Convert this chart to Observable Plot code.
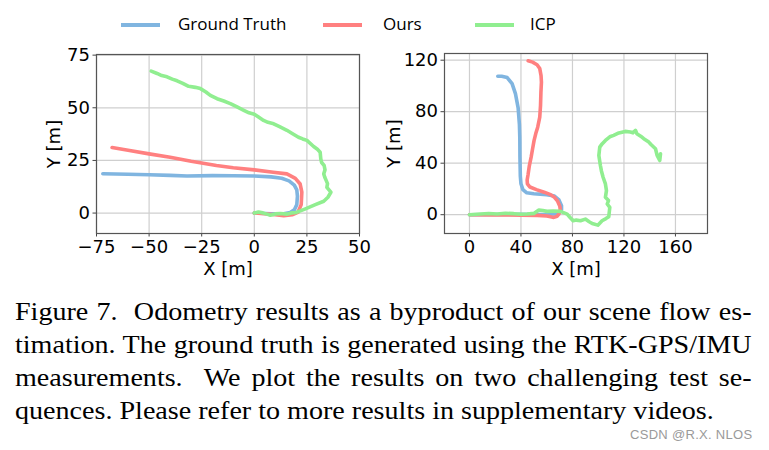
<!DOCTYPE html>
<html>
<head>
<meta charset="utf-8">
<script src="https://cdn.jsdelivr.net/npm/d3@7"></script>
<script src="https://cdn.jsdelivr.net/npm/@observablehq/plot@0.6"></script>
<style>
  body { margin: 0; background: #fff; width: 769px; height: 450px; position: relative; overflow: hidden; }
  .abs { position: absolute; }
  #legend { font-family: "Open Sans", sans-serif; font-size: 17px; color: #000; }
  .sw { position: absolute; height: 4px; top: 23px; }
  .lt { position: absolute; top: 12px; line-height: 24px; }
  .cap { position: absolute; left: 15px; width: 682px; font-family: "Liberation Serif", "Times New Roman", serif; font-size: 26px; line-height: 30px; text-align: justify; text-align-last: justify; white-space: nowrap; color: #000; transform: scaleX(1.08); transform-origin: 0 0; }
  #wm { position: absolute; left: 630px; top: 427px; font-family: "Liberation Sans", Arial, sans-serif; font-size: 13px; color: #9a9a9a; letter-spacing: 0.3px; }
</style>
</head>
<body>
<div id="legend"></div>
<div id="p1" class="abs" style="left:0px; top:40px;"></div>
<div id="p2" class="abs" style="left:380px; top:40px;"></div>
<div class="cap" style="top:297px;">Figure 7.&nbsp; Odometry results as a byproduct of our scene flow es-</div>
<div class="cap" style="top:330px;">timation. The ground truth is generated using the RTK-GPS/IMU</div>
<div class="cap" style="top:363px;">measurements.&nbsp; We plot the results on two challenging test se-</div>
<div class="cap" style="top:396px; width:auto; text-align-last:auto;">quences. Please refer to more results in supplementary videos.</div>
<div id="wm">CSDN @R.X. NLOS</div>
<script>
// ---- Data ----
const seriesNames = ["Ground Truth", "Ours", "ICP"];
const seriesColors = ["#80b5e0", "#ff8080", "#90ee90"];

// Left sequence
const gtA_x = [0, 8, 14, 17, 19, 20.2, 20.5, 20.2, 19, 16.5, 13, 8, 0, -10, -20, -32, -40, -50, -60, -72];
const gtA_y = [0, -0.3, -0.3, 0.3, 1.5, 4, 8, 11, 13.3, 15.3, 16.5, 17.2, 17.6, 17.7, 17.8, 17.6, 17.9, 18.2, 18.4, 18.7];
const oursA_x = [0, 5, 10, 14, 18, 20.7, 22.3, 22.6, 21.8, 19.5, 15.5, 9, 0, -10, -18, -30, -40, -50, -60, -67.6];
const oursA_y = [0, -0.3, -0.8, -1.3, -0.8, 0.3, 4, 10, 13.8, 16.5, 18.6, 19.4, 20.5, 21.5, 22.6, 24.6, 26.5, 28.1, 29.8, 31.1];
const icpA_x = [0, 2, 4, 6, 7.6, 10, 12.3, 15.5, 18, 20, 24, 29, 33, 35, 36.4, 34.5, 34.8, 34.2, 33.5, 33, 33.6, 33.2, 32, 31.6, 31.3, 30, 28.2, 25, 23, 21, 18, 15.5, 12, 9.2, 6.5, 4.4, 2, 0, -2.5, -5, -8.2, -11.4, -14.5, -17.7, -20.9, -23, -25.6, -28, -31.2, -34, -36.7, -39, -41.5, -44, -46.2, -49];
const icpA_y = [0, 0.5, 0.1, -0.5, -1, -0.4, -0.2, -0.5, 0.1, 0.3, 1.9, 4, 5.6, 7.5, 9.9, 12.2, 14, 15.4, 17, 18.6, 20.5, 22.6, 24, 25.7, 28.9, 30.3, 31.6, 34.5, 35.2, 36, 37.8, 39.3, 41, 42.4, 43.1, 44, 45.6, 46.9, 47.6, 48.8, 50.4, 52, 53.2, 54.3, 55.9, 57.5, 59.1, 59.7, 60.2, 61.6, 62.8, 63.6, 64.7, 65.3, 66.3, 67.4];

// Right sequence
const gtB_x = [0, 20, 40, 60, 66, 70, 71.5, 71.5, 69.5, 66, 60, 50, 44.5, 41.5, 40, 39.5, 39.2, 39.1, 38.8, 37.8, 35.7, 33.1, 29.3, 25, 22];
const gtB_y = [0, 0.2, 0.3, 0.2, 0.5, 1.8, 4, 7, 11.5, 14.5, 15.6, 16.3, 17, 19.5, 24, 30, 45, 60, 70, 83, 94, 101.8, 106.5, 107.5, 107.5];
const oursB_x = [0, 20, 40, 52.6, 60, 63, 65.5, 68, 69.5, 70.5, 70.2, 68.5, 66, 63, 58, 52, 47, 45, 44.8, 45.5, 46.5, 47.9, 49, 50.2, 51.5, 53, 54.6, 55.2, 55.5, 55.9, 55.6, 54.6, 52.5, 49, 45.6];
const oursB_y = [0, -0.2, -0.3, -0.5, -1, -1.6, -2.1, -1.2, 0.5, 4, 6.5, 10.5, 13.5, 15.6, 17.5, 19.5, 21.5, 24, 27, 31, 38, 44.7, 51, 57.7, 63, 68, 75.8, 85, 95, 103, 108, 113.5, 116.5, 118.5, 119.5];
const icpB_x = [0, 8.5, 15, 21.5, 28, 34.4, 40, 44.8, 50, 53.9, 57, 60.3, 65, 70.7, 75.9, 78, 80.5, 83, 86.2, 90, 93, 95.3, 99.7, 103, 106, 108.2, 109, 107, 108, 105.6, 106.4, 105.6, 103.8, 102.5, 101.7, 100.5, 101.2, 103, 105.6, 109, 112, 116, 121, 125, 127, 129, 130, 133, 135.4, 139.3, 141, 144.5, 145.8, 147.8, 148.4];
const icpB_y = [0, 0.5, 0.9, 0.5, 1.1, 0.8, 0.4, 0.5, 1, 3.6, 3.2, 2.6, 2.9, 2.6, 0.5, -2, -4.7, -4.2, -4.7, -3.4, -5.5, -6.8, -8.1, -4.7, -3, -1.6, 5.7, 8.3, 11, 13.5, 18.7, 23.9, 29.1, 34, 38.2, 46, 52.5, 55, 57.7, 60.5, 61.6, 63.5, 64.7, 64.2, 63.6, 65.5, 62.9, 61, 59, 56.4, 54.5, 51.2, 46, 42.1, 47.3];

// Axis ticks
const ticksAx = [-75, -50, -25, 0, 25, 50];
const ticksAy = [0, 25, 50, 75];
const ticksBx = [0, 40, 80, 120, 160];
const ticksBy = [0, 40, 80, 120];

function rows(name, xs, ys) { return xs.map((x, i) => ({series: name, x, y: ys[i]})); }
const fmt = d => d < 0 ? "\u2212" + Math.abs(d) : String(d);

function makePlot(opts) {
  const {width, height, margins, xdom, ydom, xt, yt, data} = opts;
  const axisFont = {fontSize: 18, fontFamily: "DejaVu Sans"};
  return Plot.plot({
    width, height,
    marginLeft: margins[0], marginRight: margins[1], marginTop: margins[2], marginBottom: margins[3],
    style: {fontFamily: "DejaVu Sans", fontSize: "18px", color: "#000", background: "transparent", overflow: "visible"},
    x: {domain: xdom},
    y: {domain: ydom},
    color: {domain: seriesNames, range: seriesColors},
    marks: [
      Plot.gridX(xt, {stroke: "#cfcfcf", strokeOpacity: 1, strokeWidth: 1.2}),
      Plot.gridY(yt, {stroke: "#cfcfcf", strokeOpacity: 1, strokeWidth: 1.2}),
      Plot.axisX({ticks: xt, tickFormat: fmt, tickSize: 3.5, tickPadding: 3, stroke: "#444", label: "X [m]", labelAnchor: "center", labelArrow: "none", labelOffset: 41, ...axisFont}),
      Plot.axisY({ticks: yt, tickFormat: fmt, tickSize: 3.5, tickPadding: 3, stroke: "#444", label: "Y [m]", labelAnchor: "center", labelArrow: "none", labelOffset: opts.ylabOff, ...axisFont}),
      ...seriesNames.map(name => Plot.line(data.filter(d => d.series === name), {x: "x", y: "y", stroke: "series", strokeWidth: 3.6, strokeLinejoin: "round", strokeLinecap: "round"})),
      Plot.frame({stroke: "#555", strokeWidth: 1.2})
    ]
  });
}

const dataA = [...rows("Ground Truth", gtA_x, gtA_y), ...rows("Ours", oursA_x, oursA_y), ...rows("ICP", icpA_x, icpA_y)];
const dataB = [...rows("Ground Truth", gtB_x, gtB_y), ...rows("Ours", oursB_x, oursB_y), ...rows("ICP", icpB_x, icpB_y)];

document.getElementById("p1").append(makePlot({width: 380, height: 240, margins: [96, 21, 14, 47], xdom: [-75, 50], ydom: [-9.7, 75.3], xt: ticksAx, yt: ticksAy, data: dataA, ylabOff: 49}));
document.getElementById("p2").append(makePlot({width: 340, height: 240, margins: [64, 13, 13, 47], xdom: [-19.4, 184.9], ydom: [-14.6, 125.2], xt: ticksBx, yt: ticksBy, data: dataB, ylabOff: 57}));

// Legend
const legendX = [[121, 178], [323, 383], [475, 530]];
const leg = document.getElementById("legend");
seriesNames.forEach((name, i) => {
  const sw = document.createElement("div");
  sw.className = "sw";
  sw.style.left = legendX[i][0] + "px";
  sw.style.width = "39px";
  sw.style.background = seriesColors[i];
  leg.append(sw);
  const t = document.createElement("div");
  t.className = "lt";
  t.style.left = legendX[i][1] + "px";
  t.textContent = name;
  leg.append(t);
});
</script>
</body>
</html>
